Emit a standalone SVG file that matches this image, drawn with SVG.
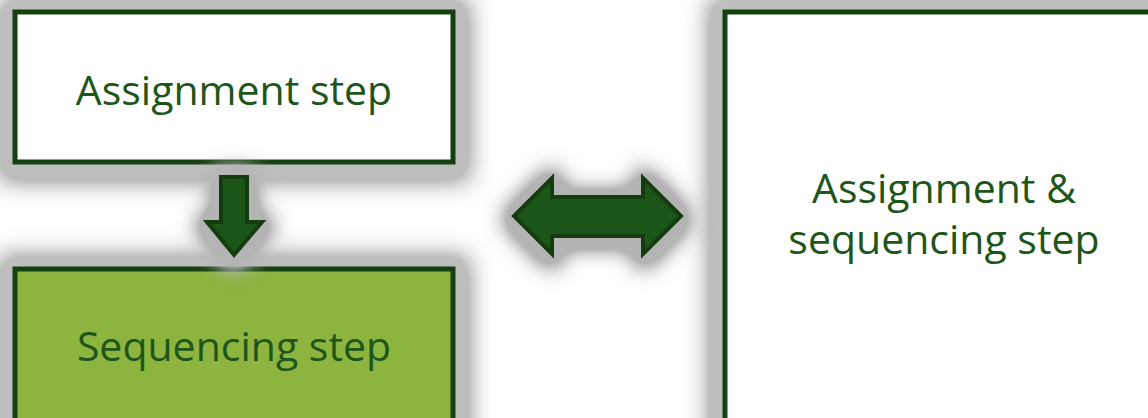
<svg xmlns="http://www.w3.org/2000/svg" width="1148" height="418" viewBox="0 0 1148 418">
<defs>
<filter id="glow" x="-40%" y="-60%" width="180%" height="220%" color-interpolation-filters="sRGB">
<feMorphology in="SourceAlpha" operator="dilate" radius="13" result="d"/>
<feGaussianBlur in="d" stdDeviation="12" result="b"/>
<feOffset in="b" dx="0" dy="3" result="o"/>
<feComponentTransfer in="o" result="a"><feFuncA type="linear" slope="2" intercept="0"/></feComponentTransfer>
<feFlood flood-color="#bebebe" result="c"/>
<feComposite in="c" in2="a" operator="in" result="s"/>
<feMerge><feMergeNode in="s"/><feMergeNode in="SourceGraphic"/></feMerge>
</filter>
<filter id="aglow" x="-60%" y="-60%" width="220%" height="220%" color-interpolation-filters="sRGB">
<feMorphology in="SourceAlpha" operator="dilate" radius="6" result="d"/>
<feGaussianBlur in="d" stdDeviation="11" result="b"/>
<feOffset in="b" dx="0" dy="3" result="o"/>
<feComponentTransfer in="o" result="a"><feFuncA type="linear" slope="2.3" intercept="0"/></feComponentTransfer>
<feFlood flood-color="#b4b4b4" result="c"/>
<feComposite in="c" in2="a" operator="in" result="s"/>
<feMerge><feMergeNode in="s"/><feMergeNode in="SourceGraphic"/></feMerge>
</filter>
<style>
.box{stroke:#15400f;stroke-width:5;filter:url(#glow)}
.arrow{fill:#1c5518;stroke:#143c0f;stroke-width:4;stroke-linejoin:miter;filter:url(#aglow)}
text{font-family:"Open Sans","Noto Sans",sans-serif;font-size:41px;fill:#1e561a;text-anchor:middle}
</style>
</defs>
<rect width="1148" height="418" fill="#ffffff"/>
<g id="node-assignment">
<rect class="box" x="15" y="12" width="438" height="150" fill="#ffffff"/>
<text x="234" y="105">Assignment step</text>
</g>
<g id="node-sequencing">
<rect class="box" x="15" y="269" width="438" height="160" fill="#8db43f"/>
<text x="234" y="361">Sequencing step</text>
</g>
<g id="node-combined">
<rect class="box" x="725" y="12" width="440" height="420" fill="#ffffff"/>
<text x="944" y="203">Assignment &amp;</text>
<text x="944" y="254">sequencing step</text>
</g>
<g id="connectors">
<path class="arrow" d="M221,177 H247 V222 H262 L234,255 L207,222 H221 Z"/>
<path class="arrow" d="M514,216 L552,178 V197 H643 V178 L681,216 L643,254 V236 H552 V254 Z"/>
</g>
</svg>
